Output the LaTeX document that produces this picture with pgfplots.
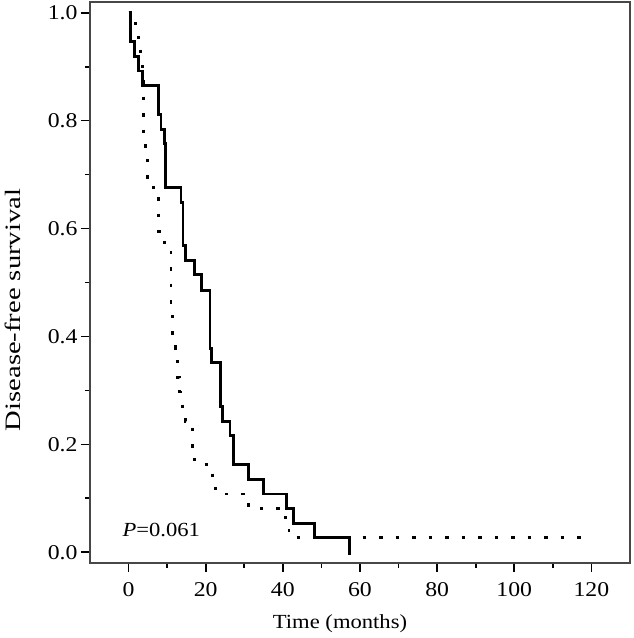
\documentclass[border=0pt]{standalone}
\usepackage{fontspec}
\setmainfont{Liberation Serif}[FakeStretch=1.13]
\newfontfamily\ylfont{Liberation Serif}[FakeStretch=1.3]
\usepackage{pgfplots}
\pgfplotsset{compat=1.18}
\begin{document}
\begin{tikzpicture}
\begin{axis}[
  scale only axis, width=540pt, height=561pt,
  xmin=-10, xmax=130, ymin=-0.02, ymax=1.02,
  xtick={0,20,40,60,80,100,120}, ytick={0,0.2,0.4,0.6,0.8,1.0},
  minor x tick num=1, minor y tick num=1,
  tick align=outside, xtick pos=bottom, ytick pos=left,
  major tick length=9pt, minor tick length=5pt,
  tick style={line width=1.6pt, black},
  axis line style={line width=1.8pt, black!72},
  ticklabel style={font=\fontsize{21}{22}\selectfont},
  xticklabel style={yshift=-7pt},
  /pgf/number format/assume math mode=true,
  yticklabel style={/pgf/number format/.cd, fixed, fixed zerofill, precision=1},
  xlabel={Time (months)},
  ylabel={Disease-free survival},
  every axis x label/.style={at={(axis description cs:0.463,-0.109)}, anchor=center, font=\fontsize{20}{22}\selectfont},
  every axis y label/.style={at={(axis description cs:-0.1426,0.451)}, rotate=90, anchor=center, font=\ylfont\fontsize{22}{24}\selectfont},
]
% solid group
\addplot[const plot, black, line width=2.9pt] coordinates {
(0,1.000) (0.4,0.946) (1.6,0.919) (2.6,0.892) (3.7,0.865)
(7.8,0.811) (8.4,0.784) (9.2,0.757) (9.6,0.676)
(13.6,0.649) (14.1,0.568) (14.7,0.541) (17.2,0.514) (19.0,0.486)
(21.1,0.378) (21.6,0.351) (23.9,0.270) (24.3,0.243)
(26.3,0.216) (27.1,0.162) (31.0,0.135) (34.9,0.108)
(41.0,0.081) (42.7,0.054) (48.1,0.027) (57.3,-0.002) (57.31,-0.002)
};
% dotted group
\addplot[const plot, black, line width=2.9pt, dash pattern=on 3.5pt off 13pt] coordinates {
(0,1.000) (1.9,0.973) (2.6,0.946) (3.2,0.919) (3.6,0.892) (3.9,0.757)
(4.4,0.730) (4.9,0.676) (7.8,0.595) (9.3,0.568) (11.0,0.459)
(11.5,0.405) (12.2,0.378) (12.7,0.324) (13.3,0.297) (13.9,0.270)
(14.7,0.243) (16.5,0.189) (17.2,0.162) (21.7,0.135) (22.6,0.108)
(31.1,0.081) (40.7,0.054) (41.6,0.027) (120,0.027)
};
\node[anchor=west, inner sep=0pt, font=\fontsize{20}{22}\selectfont] at (axis cs:-1.6,0.041) {\textit{P}=0.061};
\end{axis}
\pgfresetboundingbox
\path[use as bounding box] ([shift={(-90pt,-75pt)}]current axis.south west) rectangle ([shift={(4pt,2pt)}]current axis.north east);
\end{tikzpicture}
\end{document}
